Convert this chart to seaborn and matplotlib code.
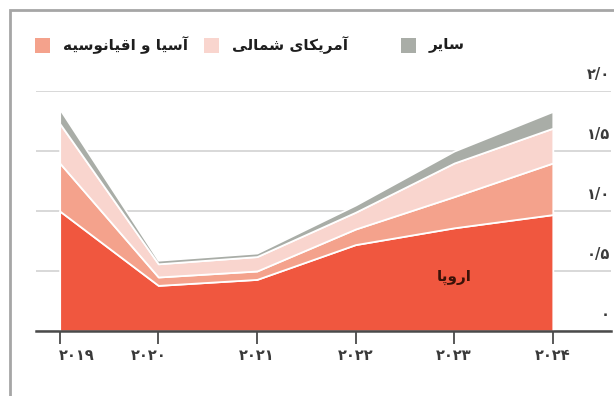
import matplotlib
matplotlib.use("Agg")
import matplotlib.pyplot as plt
import matplotlib.transforms as mtransforms
from matplotlib.patches import Rectangle
import seaborn as sns

# ---- data -------------------------------------------------------------
years = [2019, 2020, 2021, 2022, 2023, 2024]
europe = [1.00, 0.38, 0.43, 0.72, 0.86, 0.97]
asia_oceania = [0.40, 0.07, 0.07, 0.13, 0.26, 0.43]
north_america = [0.33, 0.11, 0.12, 0.14, 0.28, 0.29]
other = [0.12, 0.03, 0.03, 0.06, 0.10, 0.14]
y_ticks = [0.0, 0.5, 1.0, 1.5, 2.0]

name_europe = "اروپا"
name_asia = "آسیا و اقیانوسیه"
name_america = "آمریکای شمالی"
name_other = "سایر"

colors = ["#F0573F", "#F4A28C", "#F9D5CE", "#A9ADA7"]

# ---- Persian text helpers ---------------------------------------------
# isolated, final, initial, medial presentation forms
FORMS = {
    "\u0622": ("\uFE81", "\uFE82", None, None),
    "\u0627": ("\uFE8D", "\uFE8E", None, None),
    "\u067E": ("\uFB56", "\uFB57", "\uFB58", "\uFB59"),
    "\u0631": ("\uFEAD", "\uFEAE", None, None),
    "\u0633": ("\uFEB1", "\uFEB2", "\uFEB3", "\uFEB4"),
    "\u0634": ("\uFEB5", "\uFEB6", "\uFEB7", "\uFEB8"),
    "\u0642": ("\uFED5", "\uFED6", "\uFED7", "\uFED8"),
    "\u06A9": ("\uFB8E", "\uFB8F", "\uFB90", "\uFB91"),
    "\u0644": ("\uFEDD", "\uFEDE", "\uFEDF", "\uFEE0"),
    "\u0645": ("\uFEE1", "\uFEE2", "\uFEE3", "\uFEE4"),
    "\u0646": ("\uFEE5", "\uFEE6", "\uFEE7", "\uFEE8"),
    "\u0647": ("\uFEE9", "\uFEEA", "\uFEEB", "\uFEEC"),
    "\u0648": ("\uFEED", "\uFEEE", None, None),
    "\u06CC": ("\uFBFC", "\uFBFD", "\uFBFE", "\uFBFF"),
}


def shape_fa(text):
    """Join Persian letters and order them for left-to-right rendering."""
    out = []
    n = len(text)
    for i, ch in enumerate(text):
        forms = FORMS.get(ch)
        if forms is None:
            out.append(ch)
            continue
        prev = text[i - 1] if i > 0 else None
        nxt = text[i + 1] if i < n - 1 else None
        joins_prev = prev in FORMS and FORMS[prev][2] is not None
        joins_next = forms[2] is not None and nxt in FORMS
        if joins_prev and joins_next:
            out.append(forms[3])
        elif joins_prev:
            out.append(forms[1])
        elif joins_next:
            out.append(forms[2])
        else:
            out.append(forms[0])
    return "".join(reversed(out))


FA_DIGITS = str.maketrans("0123456789", "۰۱۲۳۴۵۶۷۸۹")


def fa_num(s):
    return str(s).translate(FA_DIGITS)


def fa_tick(v):
    return fa_num("0" if v == 0 else f"{v:.1f}".replace(".", "/"))


# ---- figure -----------------------------------------------------------
sns.set_theme(style="white")
plt.rcParams["font.family"] = ["DejaVu Sans"]

W, H = 614, 396
fig = plt.figure(figsize=(W / 100, H / 100), dpi=100)
fig.patch.set_facecolor("white")

ax = fig.add_axes([36 / W, 65 / H, (611 - 36) / W, (331 - 91) / H])
ax.set_facecolor("white")

ax.stackplot(years, europe, asia_oceania, north_america, other,
             colors=colors, edgecolor="white", linewidth=1.3, zorder=2)

ax.set_xlim(2018.76, 2024.59)
ax.set_ylim(0, 2.0)

# horizontal grid behind the areas
ax.set_yticks(y_ticks)
ax.yaxis.grid(True, color="#d2d2d2", linewidth=1.2, zorder=0)
ax.set_axisbelow(True)
ax.tick_params(axis="y", left=False, right=False, labelleft=False, labelright=False)

sns.despine(ax=ax, left=True, right=True, top=True)
ax.spines["bottom"].set_color("#4a4a4a")
ax.spines["bottom"].set_linewidth(1.8)
ax.spines["bottom"].set_zorder(3)

# x ticks with Persian year labels drawn below
ax.set_xticks(years)
ax.tick_params(axis="x", direction="out", length=9, width=1.3, color="#4a4a4a",
               labelbottom=False, bottom=True)

xlab_trans = mtransforms.blended_transform_factory(ax.transData, ax.transAxes)
shift = {0: 17, 1: -10}
for i, yr in enumerate(years):
    off = mtransforms.ScaledTranslation(shift.get(i, 0) / 100, -24 / 100, fig.dpi_scale_trans)
    ax.text(yr, 0, fa_num(yr), transform=xlab_trans + off, ha="center", va="center",
            fontsize=10.5, fontweight="bold", color="#3a3a3a")

# y labels sit above their gridlines at the right edge
ylab_trans = mtransforms.blended_transform_factory(ax.transAxes, ax.transData)
for v in y_ticks:
    off = mtransforms.ScaledTranslation(-1 / 100, 16 / 100, fig.dpi_scale_trans)
    ax.text(1.0, v, fa_tick(v), transform=ylab_trans + off, ha="right", va="center",
            fontsize=10.5, fontweight="bold", color="#3a3a3a")

# series label inside the Europe area
ax.text(2023.0, 0.45, shape_fa(name_europe), ha="center", va="center",
        fontsize=11, fontweight="bold", color="#3a1208", zorder=4)

# legend across the top: swatch followed by its name
legend_items = [(colors[1], name_asia, 35), (colors[2], name_america, 204),
                (colors[3], name_other, 401)]
sw = 15
leg_y = 45
for col, name, x0 in legend_items:
    fig.patches.append(Rectangle((x0 / W, 1 - (leg_y + sw / 2) / H), sw / W, sw / H,
                                 transform=fig.transFigure, facecolor=col,
                                 edgecolor="none"))
    fig.text((x0 + sw + 13) / W, 1 - leg_y / H, shape_fa(name), ha="left", va="center",
             fontsize=11, fontweight="bold", color="#1e1e1e")

# outer frame line (left and top edges)
fig.patches.append(Rectangle((10 / W, -0.2), 1.2, 1.2 - 10 / H, transform=fig.transFigure,
                             fill=False, edgecolor="#a6a6a6", linewidth=2.0))

fig.savefig("out.png", dpi=100)
